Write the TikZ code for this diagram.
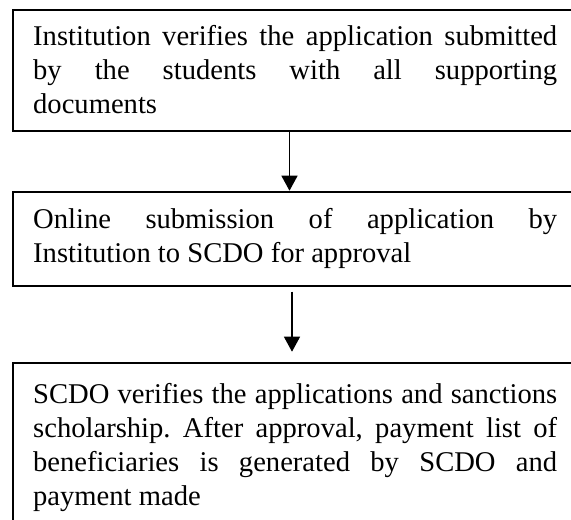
\documentclass[tikz,border=0pt]{standalone}
\usepackage{fontspec}
\setmainfont{Liberation Serif}
\usetikzlibrary{arrows.meta}
\frenchspacing
\tikzset{
  stepbox/.style={draw=black, line width=1.8pt, rectangle, inner sep=0pt, anchor=north west},
  % anchored at the baseline of the last line of the text
  steptext/.style={anchor=base west, inner sep=0pt, align=left,
    font=\fontsize{28.6}{34}\selectfont},
  flow/.style={line width=1.3pt, -{Triangle[width=16pt,length=15pt]}}
}
% one justified line of the given width
\newcommand{\fullline}[1]{\makebox[524pt][s]{#1}}
\begin{document}
\begin{tikzpicture}[x=1pt,y=1pt]
  \useasboundingbox (0,0) rectangle (571,-520);
  % frames, running past the right edge of the page
  \node[stepbox, minimum width=600pt, minimum height=121pt] (b1) at (12,-9) {};
  \node[stepbox, minimum width=600pt, minimum height=94.3pt] (b2) at (12,-190.7) {};
  \node[stepbox, minimum width=600pt, minimum height=180pt] (b3) at (12,-361.7) {};
  % texts
  \node[steptext] (t1) at (33,-113.5) {\fullline{Institution verifies the application submitted}\\
    \fullline{by the students with all supporting}\\ documents};
  \node[steptext] (t2) at (33,-262.5) {\fullline{Online submission of application by}\\
    Institution to SCDO for approval};
  \node[steptext] (t3) at (33,-505) {\fullline{SCDO verifies the applications and sanctions}\\
    \fullline{scholarship. After approval, payment list of}\\
    \fullline{beneficiaries is generated by SCDO and}\\ payment made};
  % connectors
  \coordinate (a1) at (289.5,0);
  \draw[flow] (a1 |- b1.south) -- (a1 |- b2.north);
  \coordinate (e2) at (292,-291.7);
  \coordinate (e3) at (292,-351.7);
  \draw[flow] (e2) -- (e3);
\end{tikzpicture}
\end{document}
